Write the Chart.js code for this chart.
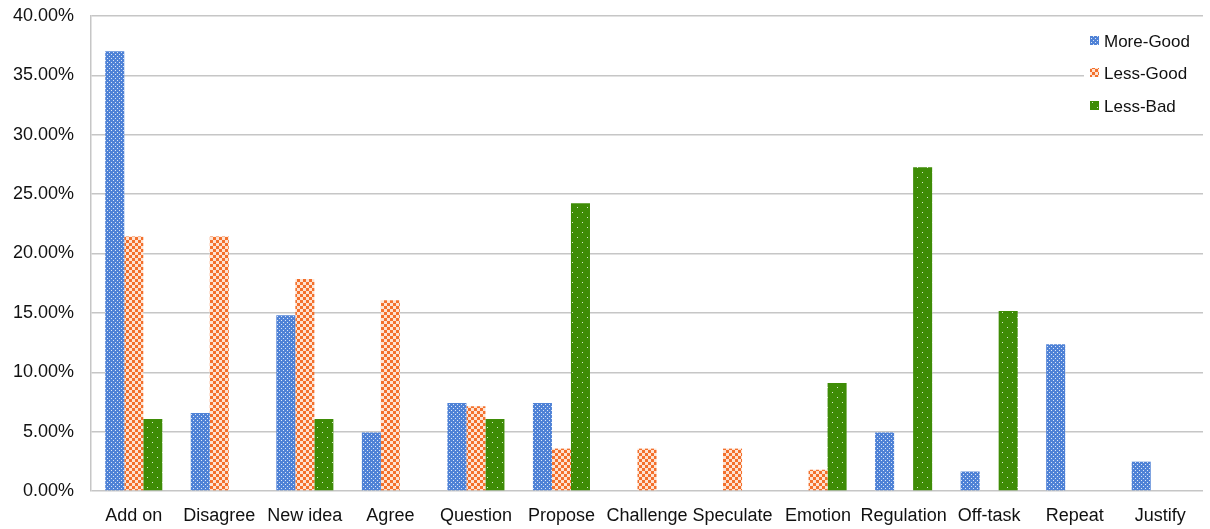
<!DOCTYPE html>
<html>
<head>
<meta charset="utf-8">
<script src="https://cdn.jsdelivr.net/npm/chart.js@4.4.1/dist/chart.umd.min.js"></script>
<style>
  html, body { margin: 0; padding: 0; background: #fff; }
  #wrap { width: 1210px; height: 529px; }
</style>
</head>
<body>
<div id="wrap"><canvas id="c" width="1210" height="529"></canvas></div>
<script>
const categories = ["Add on", "Disagree", "New idea", "Agree", "Question", "Propose", "Challenge", "Speculate", "Emotion", "Regulation", "Off-task", "Repeat", "Justify"];
const seriesNames = ["More-Good", "Less-Good", "Less-Bad"];
const moreGood = [37.04, 6.56, 14.8, 4.92, 7.41, 7.41, 0, 0, 0, 4.92, 1.64, 12.35, 2.47];
const lessGood = [21.43, 21.43, 17.86, 16.07, 7.14, 3.57, 3.57, 3.57, 1.79, 0, 0, 0, 0];
const lessBad  = [6.06, 0, 6.06, 0, 6.06, 24.24, 0, 0, 9.09, 27.27, 15.15, 0, 0];
const yTicks = [0, 5, 10, 15, 20, 25, 30, 35, 40];

function makePattern(kind) {
  const t = document.createElement('canvas');
  const g = t.getContext('2d');
  if (kind === 'blue') {
    t.width = 4; t.height = 4;
    g.fillStyle = '#4f82d6'; g.fillRect(0, 0, 4, 4);
    g.fillStyle = 'rgba(255,255,255,0.8)';
    g.fillRect(1, 0, 1, 1); g.fillRect(3, 2, 1, 1);
  } else if (kind === 'orange') {
    t.width = 6; t.height = 6;
    g.fillStyle = '#fde3d3'; g.fillRect(0, 0, 6, 6);
    g.fillStyle = '#f3702c';
    g.fillRect(0, 0, 3, 3); g.fillRect(3, 3, 3, 3);
  } else {
    t.width = 10; t.height = 10;
    g.fillStyle = '#3e8c06'; g.fillRect(0, 0, 10, 10);
    g.fillStyle = 'rgba(255,255,255,0.8)';
    g.fillRect(2, 2, 1, 1); g.fillRect(7, 7, 1, 1);
  }
  return g.createPattern(t, 'repeat');
}

const ctx = document.getElementById('c').getContext('2d');
const fills = [makePattern('blue'), makePattern('orange'), makePattern('green')];
const FONT = '"Liberation Sans", Arial, Helvetica, sans-serif';

const legendPlugin = {
  id: 'customLegend',
  afterDraw(chart) {
    const c = chart.ctx;
    c.save();
    c.fillStyle = '#ffffff';
    c.fillRect(1084, 24, 126, 96);
    const ys = [41, 73, 106];
    chart.data.datasets.forEach((ds, i) => {
      c.fillStyle = ds.backgroundColor;
      c.fillRect(1090, ys[i] - 5, 9, 9);
      c.fillStyle = '#111111';
      c.font = '17px ' + FONT;
      c.textBaseline = 'middle';
      c.textAlign = 'left';
      c.fillText(ds.label, 1104, ys[i] + 1);
    });
    c.restore();
  }
};

new Chart(ctx, {
  type: 'bar',
  data: {
    labels: categories,
    datasets: [
      { label: seriesNames[0], data: moreGood, backgroundColor: fills[0], borderWidth: 0 },
      { label: seriesNames[1], data: lessGood, backgroundColor: fills[1], borderWidth: 0 },
      { label: seriesNames[2], data: lessBad, backgroundColor: fills[2], borderWidth: 0 }
    ]
  },
  options: {
    responsive: false,
    animation: false,
    devicePixelRatio: 1,
    layout: { padding: { top: 16, right: 7, left: 0, bottom: 0 } },
    plugins: { legend: { display: false }, tooltip: { enabled: false } },
    datasets: { bar: { categoryPercentage: 0.667, barPercentage: 1.0 } },
    scales: {
      x: {
        grid: { display: false, drawTicks: false },
        border: { display: false },
        ticks: { color: '#111111', font: { family: FONT, size: 18 }, padding: 14, maxRotation: 0, autoSkip: false },
        afterFit(s) { s.height = 38; s.paddingLeft = 0; s.paddingRight = 0; }
      },
      y: {
        min: 0, max: 40,
        afterBuildTicks(s) { s.ticks = yTicks.map(v => ({ value: v })); },
        grid: { color: '#c6c6c6', lineWidth: 1.5, drawTicks: false },
        border: { display: true, color: '#c6c6c6', width: 1.5 },
        ticks: { color: '#111111', font: { family: FONT, size: 18 }, padding: 17,
                 callback: v => v.toFixed(2) + '%' },
        afterFit(s) { s.width = 91; s.paddingTop = 0; s.paddingBottom = 0; }
      }
    }
  },
  plugins: [legendPlugin]
});
</script>
</body>
</html>
